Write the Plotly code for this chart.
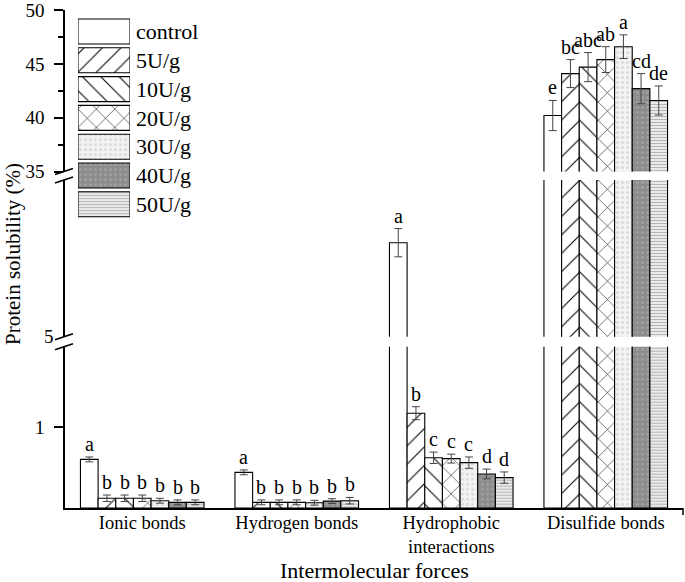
import plotly.graph_objects as go

# ---- data ----
forces = ["Ionic bonds", "Hydrogen bonds", "Hydrophobic<br>interactions", "Disulfide bonds"]
groups = ["control", "5U/g", "10U/g", "20U/g", "30U/g", "40U/g", "50U/g"]

solubility = {
    "control": [0.60, 0.44, 23.0, 40.2],
    "5U/g":    [0.12, 0.07, 1.17, 44.1],
    "10U/g":   [0.12, 0.07, 0.62, 44.7],
    "20U/g":   [0.12, 0.07, 0.61, 45.4],
    "30U/g":   [0.09, 0.065, 0.56, 46.6],
    "40U/g":   [0.07, 0.085, 0.42, 42.7],
    "50U/g":   [0.07, 0.09, 0.375, 41.6],
}
errors = {
    "control": [0.03, 0.03, 2.7, 1.4],
    "5U/g":    [0.04, 0.03, 0.08, 1.3],
    "10U/g":   [0.04, 0.03, 0.07, 1.35],
    "20U/g":   [0.04, 0.03, 0.055, 1.2],
    "30U/g":   [0.03, 0.03, 0.07, 1.1],
    "40U/g":   [0.03, 0.03, 0.06, 1.4],
    "50U/g":   [0.03, 0.04, 0.07, 1.35],
}
letters = {
    "control": ["a", "a", "a", "e"],
    "5U/g":    ["b", "b", "b", "bc"],
    "10U/g":   ["b", "b", "c", "abc"],
    "20U/g":   ["b", "b", "c", "ab"],
    "30U/g":   ["b", "b", "c", "a"],
    "40U/g":   ["b", "b", "d", "cd"],
    "50U/g":   ["b", "b", "d", "de"],
}

# ---- styling ----
FONT = "Liberation Serif, Times New Roman, DejaVu Serif, serif"
styles = {
    "control": dict(bg="white", fg="black", shape="", size=10, sol=0.1),
    "5U/g":    dict(bg="white", fg="black", shape="/", size=13, sol=0.08),
    "10U/g":   dict(bg="white", fg="black", shape="\\", size=13, sol=0.08),
    "20U/g":   dict(bg="white", fg="black", shape="x", size=13, sol=0.08),
    "30U/g":   dict(bg="#f3f3f3", fg="#dcdcdc", shape=".", size=5, sol=0.3),
    "40U/g":   dict(bg="#8c8c8c", fg="#a0a0a0", shape=".", size=5, sol=0.3),
    "50U/g":   dict(bg="#ebebeb", fg="#b5b5b5", shape="-", size=3, sol=0.35),
}

# broken y axis: (axis name, range, domain)
segments = [
    ("y", [0, 1.991], [0.0, 0.3239]),
    ("y2", [5, 35], [0.344, 0.6586]),
    ("y3", [35, 50.01], [0.6757, 1.0]),
]


def pattern(s):
    return dict(shape=s["shape"], fgcolor=s["fg"], bgcolor=s["bg"],
                size=s["size"], solidity=s["sol"], fillmode="replace")


fig = go.Figure()
for yname, rng, dom in segments:
    for g in groups:
        s = styles[g]
        fig.add_trace(go.Bar(
            x=forces, y=solubility[g], name=g, showlegend=False,
            xaxis="x", yaxis=yname,
            marker=dict(color=s["bg"], line=dict(color="black", width=1.1), pattern=pattern(s)),
            error_y=dict(type="data", array=errors[g], color="#444", thickness=1, width=4),
        ))

# legend swatches drawn as a small horizontal bar chart
swatch_len = 1
for g in groups:
    s = styles[g]
    fig.add_trace(go.Bar(
        x=[swatch_len], y=[g], orientation="h", width=0.868, offset=-0.434,
        showlegend=False, xaxis="x2", yaxis="y4", hoverinfo="skip",
        marker=dict(color=s["bg"], line=dict(color="black", width=1.1), pattern=pattern(s)),
    ))

# significance letters
n = len(groups)
annotations = []
for i, g in enumerate(groups):
    off = (i - (n - 1) / 2) * 0.8 / n
    for k in range(len(forces)):
        top = solubility[g][k] + errors[g][k]
        yref = "y" if top < 1.99 else ("y2" if top < 35 else "y3")
        annotations.append(dict(x=k + off, y=top, xref="x", yref=yref, text=letters[g][k],
                                showarrow=False, yanchor="bottom", yshift=0,
                                font=dict(family=FONT, size=20, color="black")))

annotations.append(dict(x=0, y=0.51, xref="paper", yref="paper", xshift=-52, xanchor="center",
                        yanchor="middle", text="Protein solubility (%)", textangle=-90,
                        showarrow=False, font=dict(family=FONT, size=21, color="black")))
annotations.append(dict(x=0.5, y=0, xref="paper", yref="paper", yshift=-62, yanchor="middle",
                        text="Intermolecular forces", showarrow=False,
                        font=dict(family=FONT, size=22, color="black")))

# break marks on the y axis and the end tick on the x axis
shapes = []
for edge in [0.3239, 0.344, 0.6586, 0.6757]:
    shapes.append(dict(type="line", xref="paper", yref="paper", xsizemode="pixel", ysizemode="pixel",
                       xanchor=0, yanchor=edge, x0=-10, x1=8, y0=-3, y1=3,
                       line=dict(color="black", width=1.5)))
shapes.append(dict(type="line", xref="paper", yref="paper", ysizemode="pixel", yanchor=0,
                   x0=1, x1=1, y0=0, y1=-7, line=dict(color="black", width=1.5)))

yaxis_common = dict(anchor="x", automargin=False, showline=True, linecolor="black", linewidth=1.5,
                    showgrid=False, zeroline=False, ticks="outside", ticklen=9,
                    tickcolor="black", tickwidth=1.5, ticklabelstandoff=6,
                    ticklabeloverflow="allow",
                    tickfont=dict(family=FONT, size=19, color="black"))

fig.update_layout(
    width=685, height=582,
    margin=dict(l=65, r=2, t=10, b=74),
    paper_bgcolor="white", plot_bgcolor="white",
    barmode="group", bargap=0.2, bargroupgap=0,
    xaxis=dict(anchor="y", domain=[0, 1], range=[-0.5, 3.5], automargin=False, showline=True,
               linecolor="black", linewidth=1.5, ticks="", ticklen=0, ticklabelstandoff=-3,
               showgrid=False, tickfont=dict(family=FONT, size=18.5, color="black")),
    yaxis=dict(domain=segments[0][2], range=segments[0][1], tickmode="array", tickvals=[1],
               **yaxis_common),
    yaxis2=dict(domain=segments[1][2], range=segments[1][1], tickmode="array", tickvals=[5],
                **{**yaxis_common, "ticks": ""}),
    yaxis3=dict(domain=segments[2][2], range=segments[2][1], tickmode="array",
                tickvals=[35, 40, 45, 50],
                minor=dict(tickmode="array", tickvals=[37.5, 42.5, 47.5], ticks="outside",
                           ticklen=5, tickcolor="black", tickwidth=1.5),
                **yaxis_common),
    xaxis2=dict(anchor="y4", domain=[0.021, 0.1052], range=[0, 1], visible=False,
                automargin=False),
    yaxis4=dict(anchor="x2", domain=[0.581, 0.9857], range=[6.5, -0.5], side="right",
                automargin=False, showline=False, showgrid=False, zeroline=False, ticks="",
                ticklabelstandoff=5, tickfont=dict(family=FONT, size=22, color="black")),
    annotations=annotations,
    shapes=shapes,
)

# drop the default page margin so the figure fills the window exactly
fig.write_html("out.html", config={"displayModeBar": False},
               post_script="document.body.style.margin = '0';")
